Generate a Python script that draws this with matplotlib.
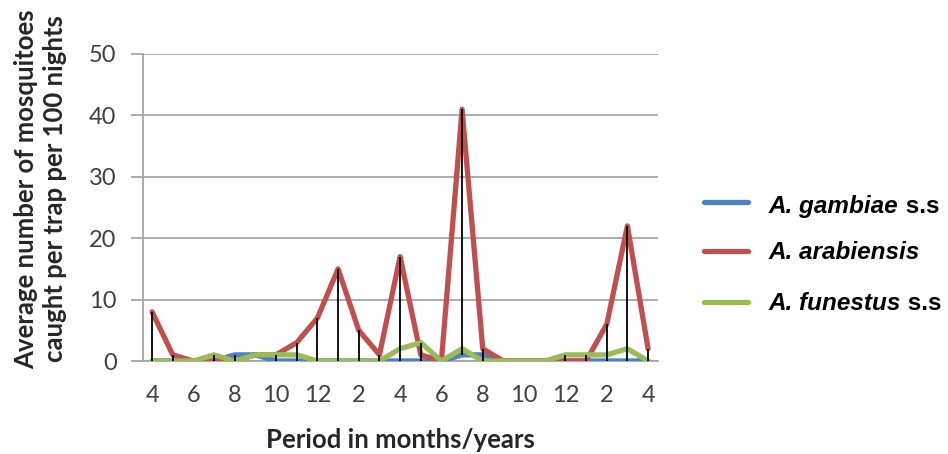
import numpy as np
import matplotlib.pyplot as plt

months = [4, 5, 6, 7, 8, 9, 10, 11, 12, 1, 2, 3, 4, 5, 6, 7, 8, 9, 10, 11, 12, 1, 2, 3, 4]
gambiae = [0, 0, 0, 0, 1, 1, 0, 0, 0, 0, 0, 0, 0, 0, 0, 1, 1, 0, 0, 0, 0, 0, 0, 0, 0]
arabiensis = [8, 1, 0, 0, 0, 1, 1, 3, 7, 15, 5, 1, 17, 1, 0, 41, 2, 0, 0, 0, 0, 0, 6, 22, 2]
funestus = [0, 0, 0, 1, 0, 1, 1, 1, 0, 0, 0, 0, 2, 3, 0, 2, 0, 0, 0, 0, 1, 1, 1, 2, 0]

BLUE = "#4F81BD"
RED = "#C0504D"
GREEN = "#9BBB59"
TICK_COLOR = "#404040"
W, H = 948, 454


def main():
    fig = plt.figure(figsize=(W / 100, H / 100), dpi=100)
    ax = fig.add_axes([143 / W, 1 - 361 / H, 515 / W, 307 / H])
    x = np.arange(len(months))

    # high-low lines
    data = np.array([gambiae, arabiensis, funestus])
    ax.vlines(x, data.min(axis=0), data.max(axis=0), color="black", lw=1.3, zorder=4)

    ax.plot(x, gambiae, color=BLUE, lw=3.8, solid_capstyle="round", zorder=3)
    ax.plot(x, arabiensis, color=RED, lw=3.8, solid_capstyle="round", zorder=3)
    ax.plot(x, funestus, color=GREEN, lw=3.8, solid_capstyle="round", zorder=3)

    ax.set_xlim(-0.44, 24.48)
    ax.set_ylim(0, 50)
    ax.set_yticks(range(0, 51, 10))
    ax.grid(axis="y", color="#A6A6A6", lw=1.3)
    ax.set_axisbelow(True)
    ax.set_xticks(x[::2])
    ax.set_xticklabels([str(m) for m in months[::2]])
    for s in ["top", "right"]:
        ax.spines[s].set_visible(False)
    for s in ["left", "bottom"]:
        ax.spines[s].set_color("#A6A6A6")
        ax.spines[s].set_linewidth(1.3)
    ax.tick_params(axis="y", length=9, width=1.3, color="#A6A6A6", labelsize=17,
                   labelcolor=TICK_COLOR, pad=10)
    ax.tick_params(axis="x", length=0, labelsize=17, labelcolor=TICK_COLOR, pad=17)
    for lab in ax.get_xticklabels() + ax.get_yticklabels():
        lab.set_family("Lato")

    fig.text(41 / W, 1 - 189 / H,
             "Average number of mosquitoes\ncaught per trap per 100 nights",
             rotation=90, ha="center", va="center", fontsize=18.5,
             fontweight="bold", family="Lato", color="#262626", linespacing=1.25)
    fig.text(400 / W, 1 - 440 / H, "Period in months/years", ha="center",
             va="center", fontsize=18.5, fontweight="bold", family="Lato",
             color="#262626")

    # legend drawn by hand
    entries = [(BLUE, "gambiae", " s.s", 202, 213), (RED, "arabiensis", "", 251, 259),
               (GREEN, "funestus", " s.s", 302, 310)]
    for color, name, suffix, ypix, base in entries:
        yf = 1 - ypix / H
        fig.add_artist(plt.Line2D([704 / W, 748 / W], [yf, yf], color=color,
                                  lw=3.8, solid_capstyle="round"))
        yb = 1 - base / H
        t = fig.text(769 / W, yb, "A. " + name, va="baseline", ha="left",
                     fontsize=17.5, fontweight="bold", style="italic",
                     family="Liberation Sans", color="black")
        if suffix:
            fig.canvas.draw()
            bb = t.get_window_extent()
            fig.text(bb.x1 / fig.bbox.width, yb, suffix, va="baseline", ha="left",
                     fontsize=17.5, fontweight="bold", family="Liberation Sans",
                     color="black")

    fig.savefig("out.png", dpi=100)
    return 0


if __name__ == "__main__":
    main()
